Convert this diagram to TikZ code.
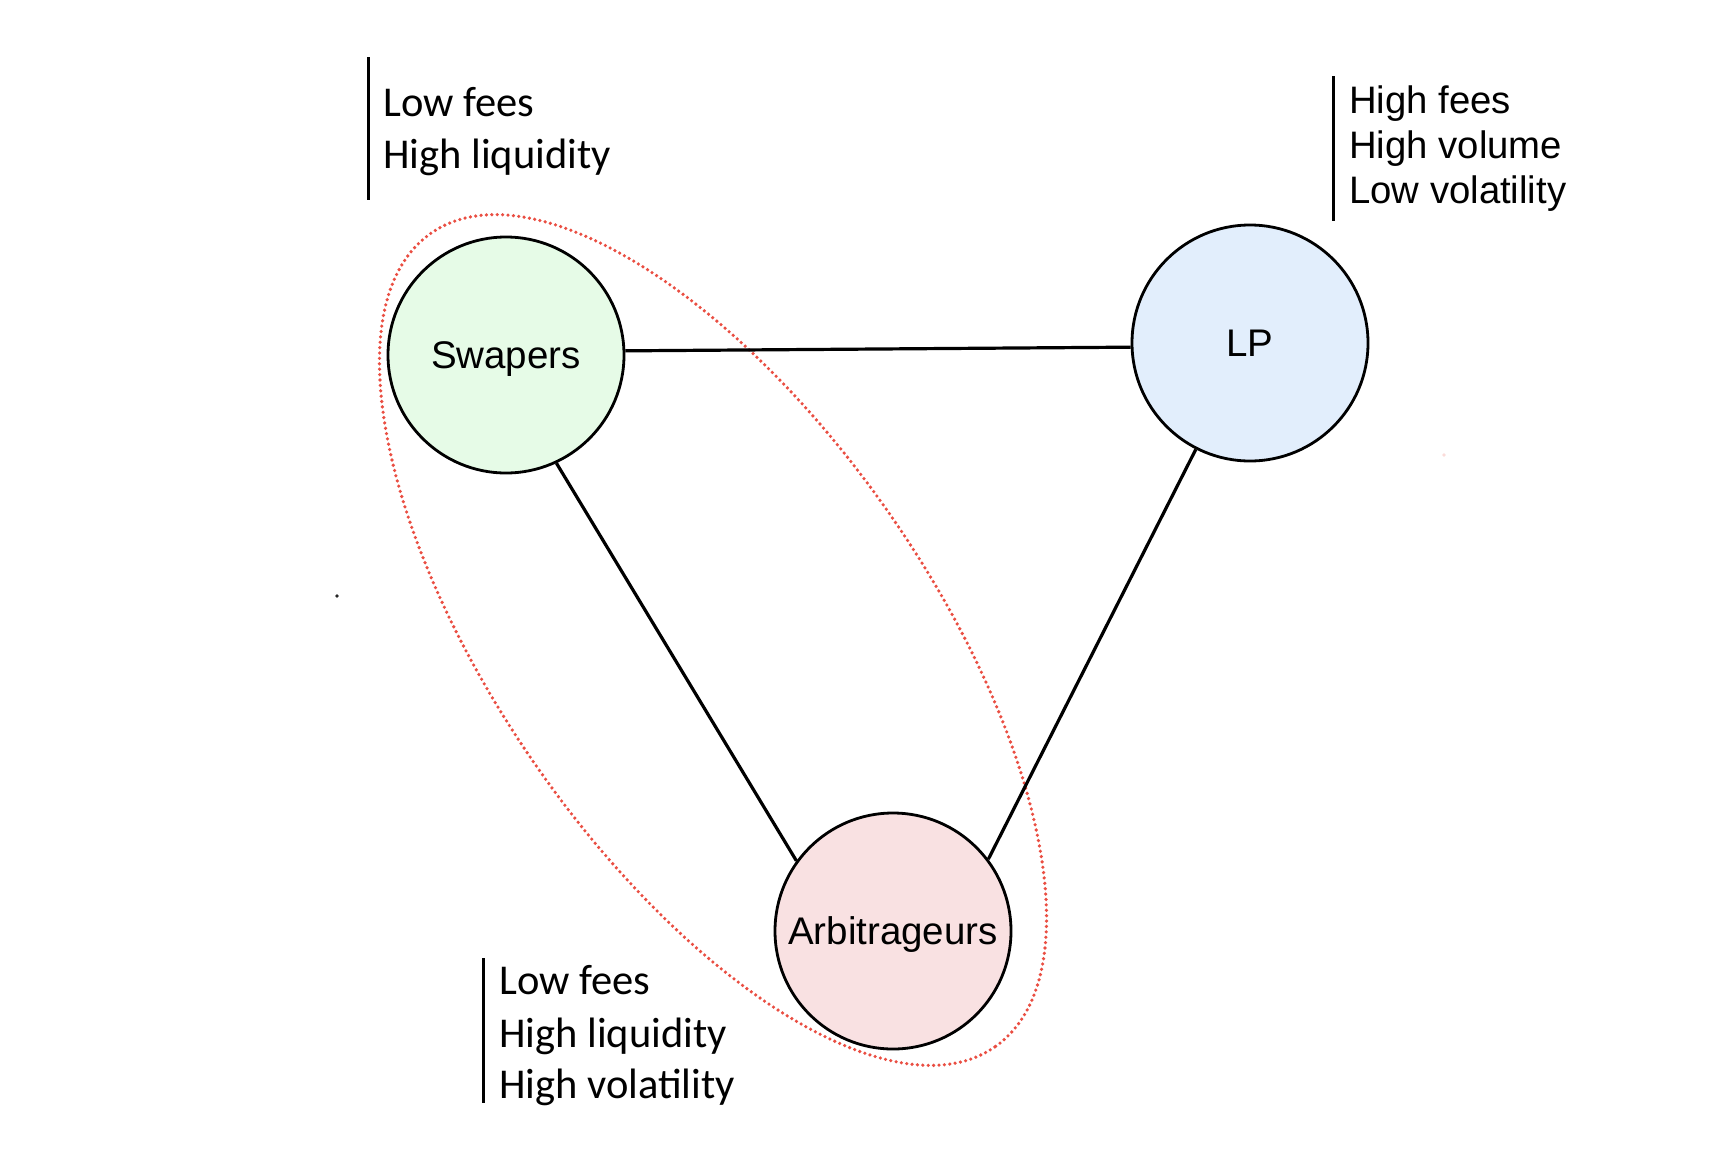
\documentclass[tikz,border=0pt]{standalone}
\usepackage{fontspec}
\setmainfont{Liberation Sans}
\newfontfamily\calfont{Carlito}
\definecolor{swfill}{RGB}{230,251,231}
\definecolor{lpfill}{RGB}{226,238,252}
\definecolor{arfill}{RGB}{249,225,226}
\definecolor{ellred}{RGB}{234,78,66}
\begin{document}
\begin{tikzpicture}[x=1pt,y=-1pt,
  actor/.style={circle,draw=black,line width=2.8pt,minimum size=236pt,inner sep=0pt,
    text height=27.6pt,text depth=0pt,
    font=\fontsize{38.5}{44}\selectfont},
  calline/.style={anchor=base west,inner sep=0pt,font=\calfont\fontsize{42.5}{52}\selectfont},
  arline/.style={anchor=base west,inner sep=0pt,font=\fontsize{38.3}{45}\selectfont},
  bar/.style={line width=3pt},
  link/.style={line width=3.2pt},
  group/.style={draw=ellred,line width=3.6pt,dash pattern=on 0pt off 5.4pt,line cap=round}]
\useasboundingbox[fill=white] (0,0) rectangle (1718,1162);

% group ellipse
\draw[group] (713,640) ellipse[x radius=495,y radius=217,rotate=-55.3];

% actors
\node[actor,fill=swfill] (S) at (506,355) {Swapers};
\node[actor,fill=lpfill] (L) at (1250,343) {LP};
\node[actor,fill=arfill] (A) at (893,931) {Arbitrageurs};

% links
\draw[link] (S.2.4) -- (L.182.4);
\draw[link] (S.-65) -- (A.144.6);
\draw[link] (L.243.9) -- (A.37.9);

% top-left annotation
\coordinate (b1t) at (368,57);
\coordinate (b1b) at (368,200);
\draw[bar] (b1t) -- (b1b);
\node[calline] (t11) at (383,116) {Low fees};
\node[calline] (t12) at (383,168) {High liquidity};

% top-right annotation
\coordinate (b2t) at (1333,76);
\coordinate (b2b) at (1333,221);
\draw[bar] (b2t) -- (b2b);
\node[arline] (t21) at (1349,113) {High fees};
\node[arline] (t22) at (1349,158) {High volume};
\node[arline] (t23) at (1349,203) {Low volatility};

% bottom annotation
\coordinate (b3t) at (483,958);
\coordinate (b3b) at (483,1103);
\draw[bar] (b3t) -- (b3b);
\node[calline] (t31) at (499,994) {Low fees};
\node[calline] (t32) at (499,1047) {High liquidity};
\node[calline] (t33) at (499,1098) {High volatility};

% stray marks
\fill[black!85] (337,596) circle[radius=1.8];
\fill[ellred!20] (1444,455) circle[radius=1.8];
\end{tikzpicture}
\end{document}
